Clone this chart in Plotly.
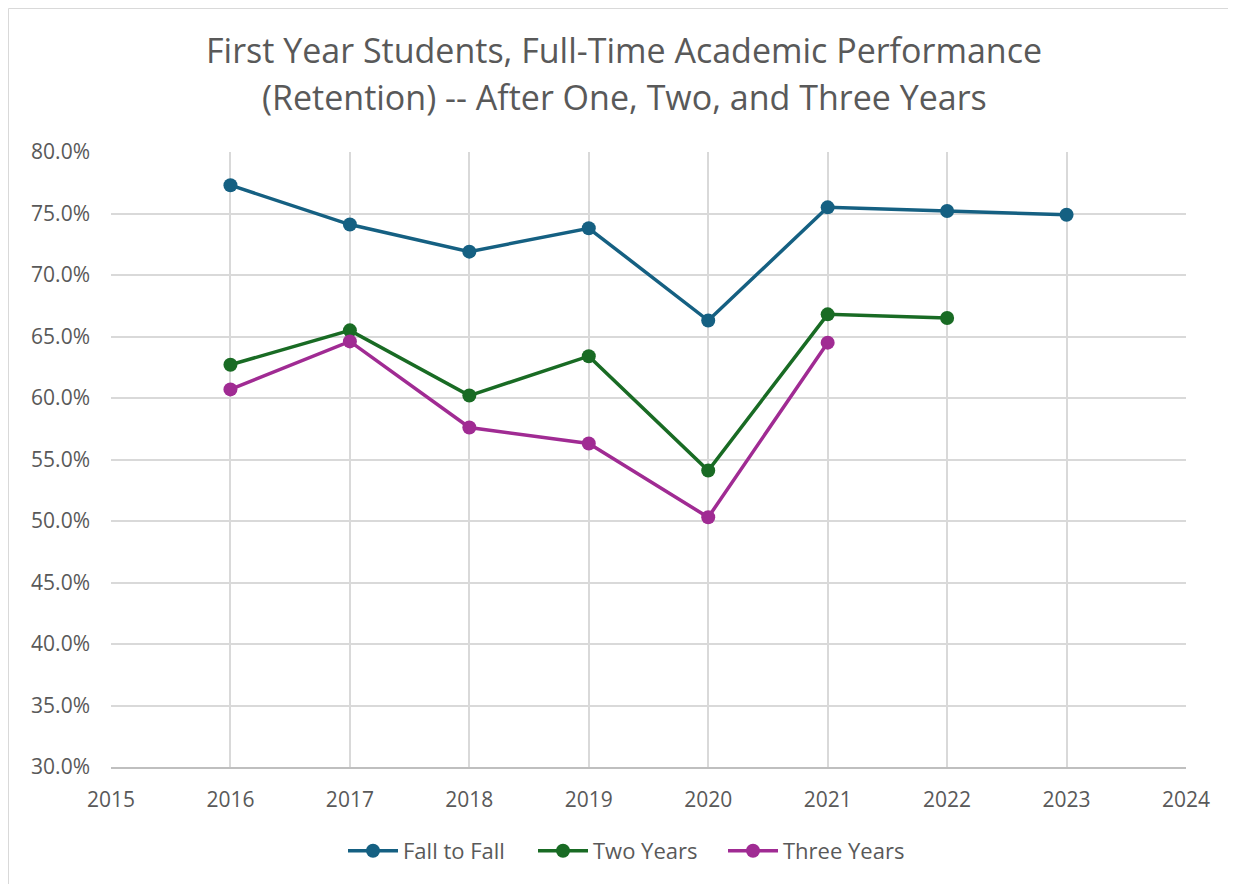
import plotly.graph_objects as go

years = [2016, 2017, 2018, 2019, 2020, 2021, 2022, 2023]
fall_to_fall = [77.3, 74.1, 71.9, 73.8, 66.3, 75.5, 75.2, 74.9]
two_years = [62.7, 65.5, 60.2, 63.4, 54.1, 66.8, 66.5, None]
three_years = [60.7, 64.6, 57.6, 56.3, 50.3, 64.5, None, None]

series_names = ["Fall to Fall", "Two Years", "Three Years"]
series_values = [fall_to_fall, two_years, three_years]
colors = ["#156082", "#196B24", "#A02B93"]

title_lines = ["First Year Students, Full-Time Academic Performance",
               "(Retention) -- After One, Two, and Three Years"]

OFF = 8  # page body margin
W, H = 1236 - OFF, 884 - OFF
# plot area in screenshot pixels
SL, SR, ST, SB = 111, 1186, 152, 767
L, R, T, B = SL - OFF, SR - OFF, ST - OFF, SB - OFF

FONT = "Open Sans"
TEXT = "#595959"
GRID = "#d9d9d9"

fig = go.Figure()
for name, vals, c in zip(series_names, series_values, colors):
    xs = [x for x, v in zip(years, vals) if v is not None]
    ys = [v for v in vals if v is not None]
    fig.add_trace(go.Scatter(
        x=xs, y=ys, name=name, mode="lines+markers",
        line=dict(color=c, width=3.5),
        marker=dict(color=c, size=14),
    ))

def px_x(p):  # screenshot px -> paper
    return (p - SL) / (SR - SL)

def px_y(p):
    return (SB - p) / (SB - ST)

annotations = []
for text, ypix in zip(title_lines, [50, 97]):
    annotations.append(dict(
        text=text, xref="paper", yref="paper",
        x=px_x(624), y=px_y(ypix), xanchor="center", yanchor="middle",
        showarrow=False, font=dict(family=FONT, size=34, color=TEXT),
    ))

fig.update_layout(
    width=W, height=H,
    margin=dict(l=L, r=W - R, t=T, b=H - B),
    paper_bgcolor="white", plot_bgcolor="white",
    annotations=annotations,
    showlegend=True,
    legend=dict(orientation="h", x=px_x(628), y=px_y(851),
                xanchor="center", yanchor="middle",
                font=dict(family=FONT, size=22, color=TEXT),
                itemwidth=50, entrywidth=125, entrywidthmode="pixels",
                traceorder="normal"),
    font=dict(family=FONT, color=TEXT),
    shapes=[dict(type="rect", xref="paper", yref="paper",
                 x0=px_x(OFF + 0.5), x1=px_x(1300), y0=px_y(1000), y1=px_y(OFF + 0.5),
                 line=dict(color=GRID, width=1), layer="below")],
)

fig.update_xaxes(
    range=[2015, 2024], dtick=1, tick0=2015,
    showgrid=True, gridcolor=GRID, gridwidth=1.5,
    showline=True, linecolor="#bfbfbf", linewidth=1.5, mirror=False,
    zeroline=False, ticks="", ticklabelstandoff=13,
    tickfont=dict(family=FONT, size=21, color=TEXT),
)
fig.update_yaxes(
    range=[30, 80], dtick=5, tick0=30,
    showgrid=True, gridcolor=GRID, gridwidth=1.5,
    showline=False, zeroline=False, ticks="",
    tickformat=".1f", ticksuffix="%", ticklabelstandoff=20,
    tickfont=dict(family=FONT, size=21, color=TEXT),
)

fig.write_html("out.html")
